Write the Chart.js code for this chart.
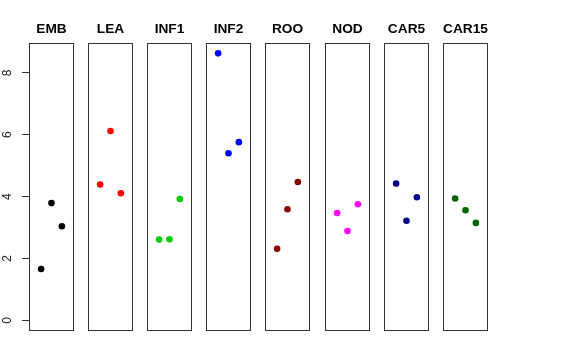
<!DOCTYPE html>
<html>
<head>
<meta charset="utf-8">
<script src="https://cdn.jsdelivr.net/npm/chart.js@4"></script>
<style>
  body { margin: 0; background: #fff; width: 576px; height: 360px; position: relative; overflow: hidden; }
  .painel { position: absolute; top: 0; height: 360px; }
</style>
</head>
<body>
<script>
// dados
const grupos = ['EMB', 'LEA', 'INF1', 'INF2', 'ROO', 'NOD', 'CAR5', 'CAR15'];
const cores = ['#000000', '#ff0000', '#00cd00', '#0000ff', '#8b0000', '#ff00ff', '#00008b', '#006400'];
const posicoes = [1, 2, 3];
const valoresEMB = [1.66, 3.79, 3.04];
const valoresLEA = [4.39, 6.12, 4.11];
const valoresINF1 = [2.61, 2.62, 3.92];
const valoresINF2 = [8.63, 5.40, 5.76];
const valoresROO = [2.31, 3.59, 4.47];
const valoresNOD = [3.47, 2.89, 3.75];
const valoresCAR5 = [4.42, 3.22, 3.98];
const valoresCAR15 = [3.94, 3.56, 3.15];
const ticksY = [0, 2, 4, 6, 8];

const series = [valoresEMB, valoresLEA, valoresINF1, valoresINF2, valoresROO, valoresNOD, valoresCAR5, valoresCAR15];

// layout dos painéis (px)
const esquerdas = [29, 88, 147, 206, 265, 325, 384, 443];
const larguraPainel = 45;
const larguraEixo = 29;

const moldura = {
    id: 'moldura',
    afterDraw(chart, args, opts) {
        const { ctx, chartArea: a } = chart;
        ctx.save();
        ctx.strokeStyle = '#333';
        ctx.lineWidth = 1;
        ctx.strokeRect(a.left + 0.5, a.top + 0.5, a.right - a.left - 1, a.bottom - a.top - 1);
        ctx.fillStyle = '#000';
        ctx.font = 'bold 13.7px "Liberation Sans", Arial, sans-serif';
        ctx.textAlign = 'center';
        ctx.textBaseline = 'middle';
        ctx.fillText(opts.titulo, (a.left + a.right) / 2, 29.5);
        if (opts.eixo) {
            const y = chart.scales.y;
            ctx.font = '12px "Liberation Sans", Arial, sans-serif';
            ctx.fillStyle = '#222';
            ticksY.forEach(v => {
                ctx.save();
                ctx.translate(8, y.getPixelForValue(v));
                ctx.rotate(-Math.PI / 2);
                ctx.fillText(String(v), 0, 0);
                ctx.restore();
            });
        }
        ctx.restore();
    }
};

grupos.forEach((nome, i) => {
    const primeiro = i === 0;
    const div = document.createElement('div');
    div.className = 'painel';
    const largura = primeiro ? larguraEixo + larguraPainel : larguraPainel;
    div.style.left = (primeiro ? 0 : esquerdas[i]) + 'px';
    div.style.width = largura + 'px';
    const canvas = document.createElement('canvas');
    div.appendChild(canvas);
    document.body.appendChild(div);

    new Chart(canvas.getContext('2d'), {
        type: 'scatter',
        data: {
            datasets: [{
                data: posicoes.map((x, j) => ({ x: x, y: series[i][j] })),
                backgroundColor: cores[i],
                borderColor: cores[i],
                borderWidth: 0,
                pointRadius: 3.3
            }]
        },
        options: {
            responsive: true,
            maintainAspectRatio: false,
            animation: false,
            events: [],
            layout: { autoPadding: false, padding: { top: 43, bottom: 29, left: 0, right: 0 } },
            plugins: {
                legend: { display: false },
                tooltip: { enabled: false },
                moldura: { titulo: nome, eixo: primeiro }
            },
            scales: {
                x: { type: 'linear', min: -0.17, max: 4.17, display: false },
                y: {
                    type: 'linear',
                    min: -0.345,
                    max: 8.965,
                    display: primeiro,
                    position: 'left',
                    border: { display: false },
                    grid: { display: true, drawOnChartArea: false, drawTicks: true, tickLength: 7, color: '#333' },
                    ticks: { display: false },
                    afterBuildTicks: s => { s.ticks = ticksY.map(v => ({ value: v })); },
                    afterFit: s => { s.width = primeiro ? larguraEixo : 0; }
                }
            }
        },
        plugins: [moldura]
    });
});
</script>
</body>
</html>
